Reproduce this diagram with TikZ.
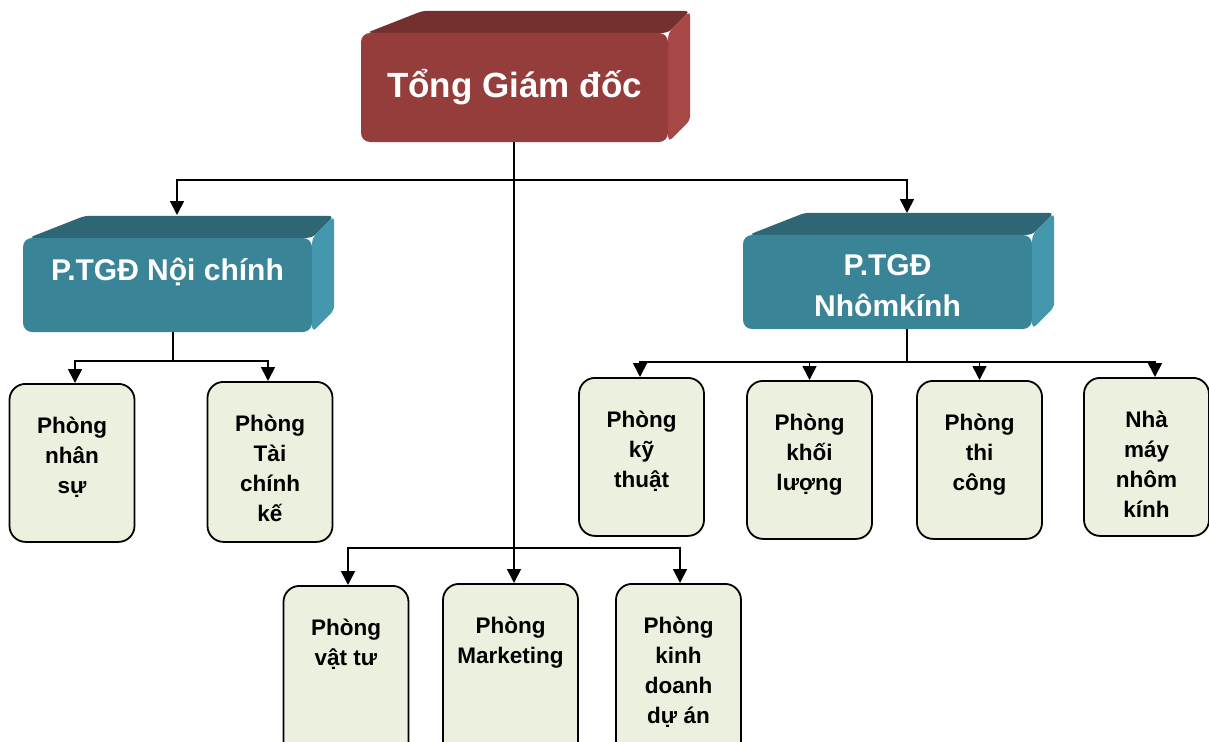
\documentclass[tikz,border=0pt]{standalone}
\usepackage{fontspec}
\setmainfont{Liberation Sans}
\usetikzlibrary{arrows.meta, backgrounds, calc}
\definecolor{redfront}{RGB}{148, 61, 59}
\definecolor{redtop}{RGB}{115, 48, 46}
\definecolor{redside}{RGB}{168, 72, 70}
\definecolor{tealfront}{RGB}{58, 132, 151}
\definecolor{tealtop}{RGB}{47, 102, 118}
\definecolor{tealside}{RGB}{68, 152, 174}
\definecolor{deptfill}{RGB}{235, 241, 222}

% text hung from the top of a box
\newcommand{\toptext}[4]{\parbox[c][#1][t]{#2}{\centering\rule{0pt}{#3}#4}}
% top and right faces behind a front face
\newcommand{\boxfaces}[3]{%
  \fill[#2, rounded corners=5pt] ([xshift=6pt]#1.north west) -- ++(56,-22) -- ($(#1.north east)+(22,-22)$) -- (#1.north east) -- cycle;
  \fill[#3, rounded corners=5pt] (#1.north east) -- ++(22,-22) -- ($(#1.south east)+(22,-22)$) -- (#1.south east) -- cycle;}

\begin{document}
\begin{tikzpicture}[x=1pt, y=-1pt]%
        \tikzstyle{chief} = [rounded corners=9pt, fill=redfront, text=white, inner sep=0pt,
          minimum width=307pt, minimum height=109pt, font=\fontsize{35}{40}\selectfont\bfseries]
        \tikzstyle{deputy} = [rounded corners=9pt, fill=tealfront, text=white, inner sep=0pt,
          minimum width=289pt, minimum height=94pt, font=\fontsize{30}{41}\selectfont\bfseries]
        \tikzstyle{dept} = [draw, line width=1.8pt, rounded corners=16pt, fill=deptfill, inner sep=0pt,
          anchor=north, minimum width=125pt, font=\fontsize{22.5}{30}\selectfont\bfseries]
        \tikzstyle{line} = [line width=1.7pt]
        \tikzstyle{arrow} = [line, -{Triangle[width=14pt,length=14pt]}]

        \useasboundingbox (0,0) rectangle (1209,741);

        \node[chief] (tgd) at (514.5,87.5) {Tổng Giám đốc};
        \node[deputy] (pnc) at (167.5,285) {\toptext{94pt}{289pt}{42pt}{P.TGĐ Nội chính}};
        \node[deputy] (pnm) at (887.5,282) {\toptext{94pt}{289pt}{40pt}{P.TGĐ\\Nhômkính}};

        \begin{pgfonlayer}{background}
          \boxfaces{tgd}{redtop}{redside}
          \boxfaces{pnc}{tealtop}{tealside}
          \boxfaces{pnm}{tealtop}{tealside}
        \end{pgfonlayer}

        \node[dept] (nhansu) at (72,383) {\toptext{158pt}{120pt}{50pt}{Phòng\\nhân\\sự}};
        \node[dept] (taichinh) at (270,381) {\toptext{160pt}{120pt}{50pt}{Phòng\\Tài\\chính\\kế}};
        \node[dept] (kythuat) at (641.5,377) {\toptext{158pt}{120pt}{50pt}{Phòng\\kỹ\\thuật}};
        \node[dept] (khoiluong) at (809.5,380) {\toptext{158pt}{120pt}{50pt}{Phòng\\khối\\lượng}};
        \node[dept] (thicong) at (979.5,380) {\toptext{158pt}{120pt}{50pt}{Phòng\\thi\\công}};
        \node[dept] (nhamay) at (1146.5,377) {\toptext{158pt}{120pt}{50pt}{Nhà\\máy\\nhôm\\kính}};

        \node[dept] (vattu) at (346,585) {\toptext{185pt}{120pt}{50pt}{Phòng\\vật tư}};
        \node[dept, minimum width=135pt] (marketing) at (510.5,583) {\toptext{185pt}{130pt}{50pt}{Phòng\\Marketing}};
        \node[dept] (kinhdoanh) at (678.5,583) {\toptext{185pt}{120pt}{50pt}{Phòng\\kinh\\doanh\\dự án}};

        % top level
        \coordinate (topsplit) at (514,180);
        \coordinate (pnctop) at (177,215);
        \coordinate (pnmtop) at (907,213);
        \draw[arrow] ([xshift=-0.5pt]tgd.south) -- ([xshift=-0.5pt]tgd.south |- marketing.north);
        \draw[arrow] (topsplit) -| (pnctop);
        \draw[arrow] (topsplit) -| (pnmtop);

        \coordinate (lowsplit) at (514,548);
        \draw[arrow] (lowsplit) -| ([xshift=2pt]vattu.north);
        \draw[arrow] (lowsplit) -| ([xshift=1.5pt]kinhdoanh.north);

        % left branch
        \draw[line] ([xshift=5.5pt]pnc.south) -- ++(0,29) coordinate (ncsplit);
        \draw[arrow] (ncsplit) -| ([xshift=3pt]nhansu.north);
        \draw[arrow] (ncsplit) -| ([xshift=-2pt]taichinh.north);

        % right branch
        \draw[line] ([xshift=19.5pt]pnm.south) -- ++(0,33) coordinate (nmsplit);
        \draw[arrow] (nmsplit) -| ([xshift=-1.5pt]kythuat.north);
        \draw[arrow] (nmsplit) -| (khoiluong.north);
        \draw[arrow] (nmsplit) -| (thicong.north);
        \draw[arrow] (nmsplit) -| ([xshift=8.5pt]nhamay.north);
      \end{tikzpicture}
\end{document}
